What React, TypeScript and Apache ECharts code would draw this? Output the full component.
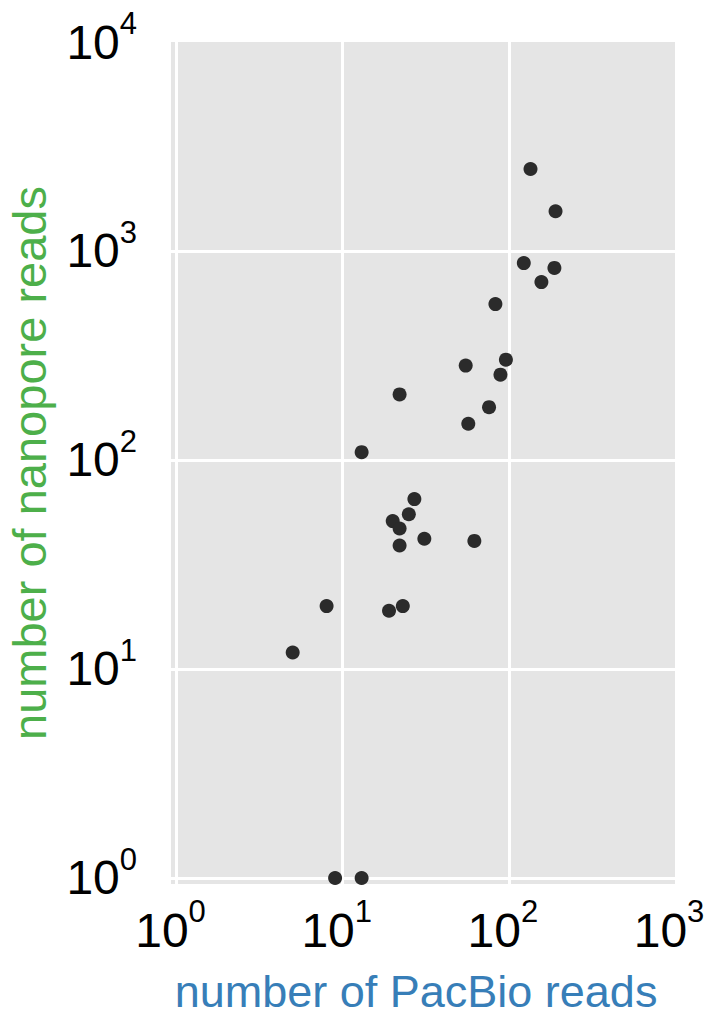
import { useEffect, useRef } from "react";
import * as echarts from "echarts";

// reads per sample, PacBio (x) against nanopore (y)
const pacbioReads = [
  135, 191, 123, 188, 157, 83, 55, 96, 89, 76, 22, 57, 13, 27, 25, 20, 22, 22,
  31, 62, 8, 19, 23, 5, 9, 13,
];
const nanoporeReads = [
  2467, 1549, 875, 830, 710, 557, 283, 302, 256, 179, 206, 149, 109, 65, 55,
  51, 47, 39, 42, 41, 20, 19, 20, 12, 1, 1,
];

const xName = "number of PacBio reads";
const yName = "number of nanopore reads";

const FONT = "'Liberation Sans', Arial, Helvetica, sans-serif";

function powerLabel(value: number): string {
  const exponent = Math.log10(value);
  const rounded = Math.round(exponent);
  if (Math.abs(exponent - rounded) > 1e-6) return "";
  return `{b|10}{s|${rounded}}`;
}

const baseRich = {
  b: { fontSize: 48, lineHeight: 68, color: "#000", fontFamily: FONT },
  s: {
    fontSize: 31,
    lineHeight: 31,
    verticalAlign: "top",
    color: "#000",
    fontFamily: FONT,
  },
};

export default function App() {
  const reference = useRef<HTMLDivElement>(null);
  useEffect(() => {
    const element = reference.current;
    if (element === null) return;
    const chart = echarts.init(element, undefined, { renderer: "svg" });
    chart.setOption({
      animation: false,
      backgroundColor: "#ffffff",
      textStyle: { fontFamily: FONT },
      grid: {
        left: 171,
        right: 34,
        top: 42,
        bottom: 132,
        outerBoundsMode: "none",
        show: true,
        backgroundColor: "#e5e5e5",
        borderWidth: 0,
      },
      xAxis: {
        type: "log",
        logBase: 10,
        min: 0.926,
        max: 1000,
        name: xName,
        nameLocation: "middle",
        nameGap: 84,
        nameTextStyle: {
          color: "#377eb8",
          fontSize: 45,
          lineHeight: 46,
          fontFamily: FONT,
          padding: [0, 14, 0, 0],
        },
        axisLine: { show: false },
        axisTick: { show: false },
        axisLabel: {
          margin: 12,
          formatter: powerLabel,
          rich: {
            b: baseRich.b,
            s: { ...baseRich.s, padding: [0, 12, 0, 0] },
          },
        },
        splitLine: {
          show: true,
          showMinLine: false,
          showMaxLine: false,
          lineStyle: { color: "#ffffff", width: 3 },
        },
      },
      yAxis: {
        type: "log",
        logBase: 10,
        min: 0.936,
        max: 10000,
        name: yName,
        nameLocation: "middle",
        nameGap: 118,
        nameTextStyle: {
          color: "#4daf4a",
          fontSize: 47,
          fontFamily: FONT,
        },
        axisLine: { show: false },
        axisTick: { show: false },
        axisLabel: {
          margin: 34,
          formatter: powerLabel,
          rich: baseRich,
        },
        splitLine: {
          show: true,
          showMinLine: false,
          showMaxLine: false,
          lineStyle: { color: "#ffffff", width: 3 },
        },
      },
      series: [
        {
          type: "scatter",
          symbol: "circle",
          symbolSize: 14,
          itemStyle: { color: "#2b2b2b", opacity: 1 },
          data: pacbioReads.map((x, index) => [x, nanoporeReads[index]]),
        },
      ],
    });
    return () => chart.dispose();
  }, []);
  return (
    <div
      ref={reference}
      style={{
        position: "fixed",
        left: 0,
        top: 0,
        width: 709,
        height: 1016,
      }}
    />
  );
}
